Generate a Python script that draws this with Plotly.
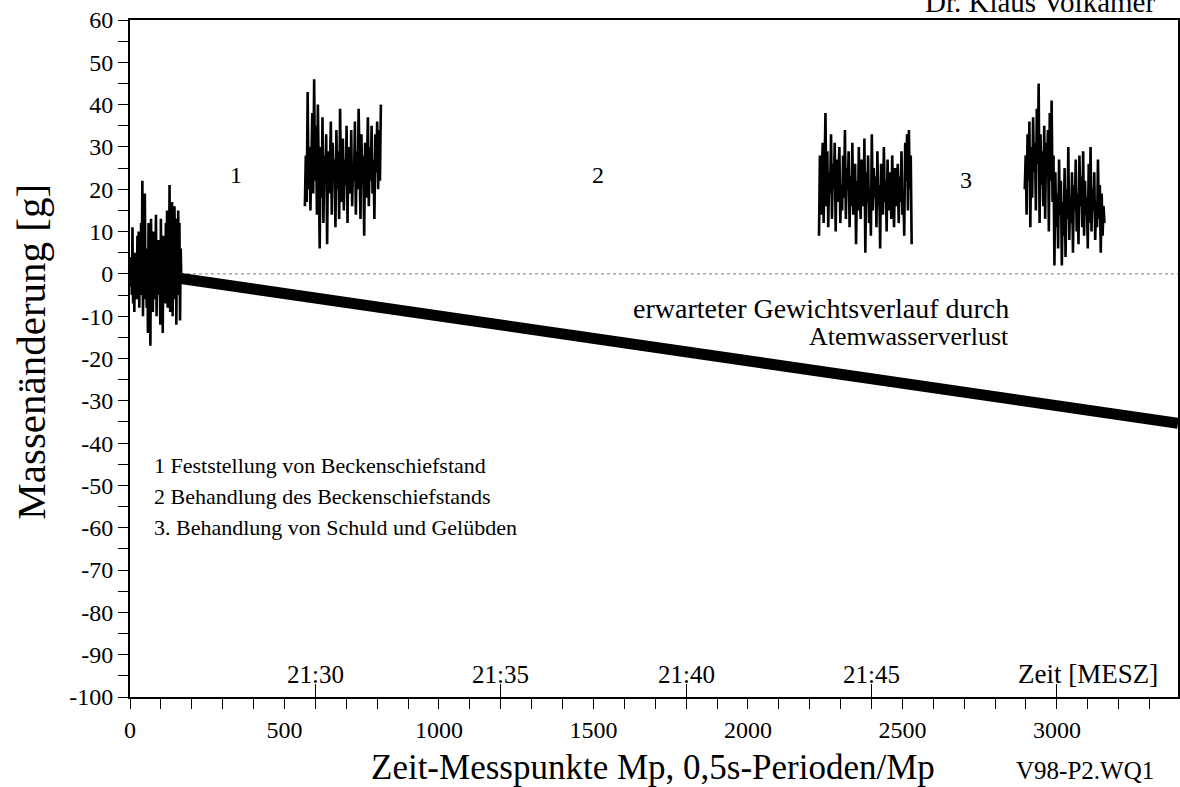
import plotly.graph_objects as go

# ---------------- data ----------------
# segment A: baseline (Mp 0..166, step 2)
seg_a_start, seg_a_step = 0, 2
seg_a = [0, -3, 4, -5, 11, -7, 3, -9, 5, -2, 4, -6, 9, -4, 10, -8, 6, -5, 12, -3,
         22, -10, 5, -6, 19, -4, 3, -8, 6, -14, 12, -5, 2, -17, 13, -4, 3, -9, 10, -6,
         4, -3, 14, -10, 2, -5, 8, -4, 5, -12, 13, -6, 3, -14, 9, -3, 4, -7, 12, -4,
         15, -8, 6, -5, 21, -9, 16, -3, 17, -10, 14, -6, 16, -4, 13, -12, 8, -5, 15, -3,
         12, -11, 6, -1]

# segment B (Mp ~566..812, step 3)
seg_b_start, seg_b_step = 566, 3
seg_b = [16, 28, 17, 43, 20, 30, 15, 26, 38, 19, 46, 22, 35, 14, 40, 24, 6, 30, 18, 37,
         12, 28, 21, 33, 7, 29, 19, 25, 36, 14, 31, 22, 27, 11, 34, 20, 29, 13, 39, 23,
         17, 32, 15, 27, 21, 35, 12, 30, 24, 19, 34, 16, 26, 22, 36, 14, 29, 20, 39, 25,
         13, 33, 21, 28, 9, 31, 18, 26, 37, 16, 30, 22, 35, 19, 27, 13, 33, 24, 36, 20,
         34, 22, 40]

# segment C (Mp ~2230..2534, step 3)
seg_c_start, seg_c_step = 2230, 3
seg_c = [9, 28, 14, 22, 31, 12, 25, 38, 16, 29, 11, 24, 19, 33, 13, 26, 20, 31, 10, 27,
         17, 23, 30, 12, 21, 15, 28, 18, 34, 13, 25, 20, 29, 11, 23, 16, 31, 14, 19, 26,
         7, 22, 15, 30, 18, 13, 27, 21, 16, 32, 5, 24, 17, 28, 12, 20, 9, 33, 15, 25,
         18, 23, 11, 29, 16, 21, 6, 26, 19, 14, 30, 17, 22, 10, 27, 15, 20, 24, 13, 28,
         18, 11, 25, 16, 21, 26, 12, 23, 17, 29, 14, 19, 9, 31, 22, 33, 15, 34, 20, 28, 7]

# segment D (Mp ~2896..3155, step 3)
seg_d_start, seg_d_step = 2896, 3
seg_d = [20, 28, 14, 33, 22, 36, 11, 30, 18, 37, 24, 31, 15, 39, 26, 45, 12, 33, 21, 29,
         16, 35, 13, 31, 25, 34, 10, 38, 22, 41, 17, 28, 2, 24, 11, 19, 6, 27, 14, 22,
         2, 17, 9, 25, 4, 20, 13, 30, 8, 18, 12, 24, 5, 21, 15, 27, 10, 19, 7, 28,
         16, 23, 11, 29, 9, 22, 14, 18, 6, 26, 12, 30, 10, 20, 15, 24, 8, 17, 11, 27,
         13, 21, 5, 19, 9, 16, 12]

# expected weight course (breath water loss)
expected_x = [165, 3392]
expected_y = [-1.1, -35.3]

# zero reference line
zero_x = [165, 3392]
zero_y = [0, 0]

x_range = [0, 3392]
y_range = [-100, 60]
x_tick_vals = [0, 500, 1000, 1500, 2000, 2500, 3000]
y_tick_vals = list(range(-100, 61, 10))
time_tick_vals = [600, 1200, 1800, 2400, 3000]
time_tick_text = ["21:30", "21:35", "21:40", "21:45"]
time_label_y = -94.6

phase_labels = ["1", "2", "3"]
phase_x = [343, 1515, 2705]
phase_y = [23.4, 23.4, 22.2]

legend_lines = ["1 Feststellung von Beckenschiefstand",
                "2 Behandlung des Beckenschiefstands",
                "3. Behandlung von Schuld und Gelübden"]
legend_y = [-45.4, -52.7, -60.0]

FONT = "Liberation Serif"

fig = go.Figure()

def seg_x(start, step, vals):
    return [start + step * i for i in range(len(vals))]

for start, step, vals in [(seg_a_start, seg_a_step, seg_a), (seg_b_start, seg_b_step, seg_b),
                          (seg_c_start, seg_c_step, seg_c), (seg_d_start, seg_d_step, seg_d)]:
    fig.add_trace(go.Scatter(x=seg_x(start, step, vals), y=vals, mode="lines",
                             line=dict(color="black", width=2.6), showlegend=False,
                             hoverinfo="skip"))

fig.add_trace(go.Scatter(x=zero_x, y=zero_y, mode="lines",
                         line=dict(color="#777777", width=1, dash="dot"),
                         showlegend=False, hoverinfo="skip"))
fig.add_trace(go.Scatter(x=expected_x, y=expected_y, mode="lines",
                         line=dict(color="black", width=11), showlegend=False,
                         hoverinfo="skip"))

# invisible trace on the time axis so that it is drawn
fig.add_trace(go.Scatter(x=[x_range[0]], y=[y_range[0]], xaxis="x2", mode="markers",
                         marker=dict(opacity=0), showlegend=False, hoverinfo="skip"))

fig.update_layout(
    width=1180, height=787,
    margin=dict(l=130, r=2, t=20, b=90, autoexpand=False),
    paper_bgcolor="white", plot_bgcolor="white",
    font=dict(family=FONT, color="black", size=22),
    xaxis=dict(range=x_range, tickvals=x_tick_vals, ticktext=[str(v) for v in x_tick_vals],
               ticks="outside", ticklen=10, tickwidth=1.3, tickcolor="black",
               minor=dict(dtick=100, ticks="outside", ticklen=10, tickwidth=1.3, tickcolor="black"),
               showline=True, linecolor="black", linewidth=2, mirror=True,
               showgrid=False, zeroline=False, automargin=False,
               tickfont=dict(size=24, family=FONT, color="black")),
    xaxis2=dict(range=x_range, overlaying="x", anchor="y", side="bottom",
                tickvals=time_tick_vals, ticktext=["" for _ in time_tick_vals],
                ticks="inside", ticklen=13, tickwidth=1.3, tickcolor="black",
                showline=False, showgrid=False, zeroline=False, automargin=False),
    yaxis=dict(range=y_range, tickvals=y_tick_vals, ticktext=[str(v) for v in y_tick_vals],
               ticks="outside", ticklen=10, tickwidth=1.3, tickcolor="black",
               minor=dict(dtick=5, ticks="outside", ticklen=10, tickwidth=1.3, tickcolor="black"),
               showline=True, linecolor="black", linewidth=2, mirror=True,
               showgrid=False, zeroline=False, automargin=False,
               tickfont=dict(size=24, family=FONT, color="black")),
)

# axis titles
fig.add_annotation(xref="paper", yref="paper", x=0.499, y=-0.104, xanchor="center",
                   yanchor="middle", text="Zeit-Messpunkte Mp, 0,5s-Perioden/Mp",
                   showarrow=False, font=dict(size=35, family=FONT))
fig.add_annotation(xref="paper", yref="paper", x=-0.0945, y=0.51, xanchor="center",
                   yanchor="middle", textangle=-90, text="Massenänderung [g]",
                   showarrow=False, font=dict(size=41, family=FONT))

# time labels
for t, x in zip(time_tick_text, time_tick_vals):
    fig.add_annotation(x=x, y=time_label_y, text=t, showarrow=False,
                       font=dict(size=25, family=FONT))
fig.add_annotation(x=3100, y=time_label_y, text="Zeit [MESZ]", showarrow=False,
                   font=dict(size=27, family=FONT))

for t, x, y in zip(phase_labels, phase_x, phase_y):
    fig.add_annotation(x=x, y=y, text=t, showarrow=False, font=dict(size=24, family=FONT))

for t, y in zip(legend_lines, legend_y):
    fig.add_annotation(x=71, y=y, text=t, showarrow=False, xanchor="left",
                       font=dict(size=22, family=FONT))

fig.add_annotation(x=2850, y=-8.3, text="erwarteter Gewichtsverlauf durch",
                   showarrow=False, xanchor="right", font=dict(size=28, family=FONT))
fig.add_annotation(x=2850, y=-14.9, text="Atemwasserverlust",
                   showarrow=False, xanchor="right", font=dict(size=26, family=FONT))

fig.add_annotation(xref="paper", yref="paper", x=0.98, y=1.0, xanchor="right",
                   yanchor="bottom", text="Dr. Klaus Volkamer", showarrow=False,
                   font=dict(size=29, family=FONT))
fig.add_annotation(xref="paper", yref="paper", x=0.911, y=-0.109, xanchor="center",
                   yanchor="middle", text="V98-P2.WQ1", showarrow=False,
                   font=dict(size=25, family=FONT))

fig.write_html("out.html", config={"displayModeBar": False},
               post_script="document.body.style.margin='0px';")
